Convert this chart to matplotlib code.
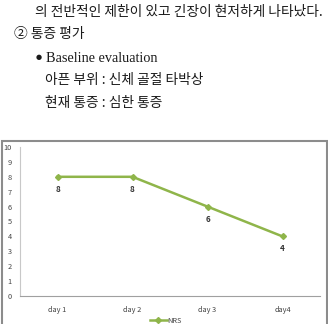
import matplotlib.pyplot as plt
from matplotlib.patches import Rectangle

plt.rcParams['font.family'] = ['Noto Sans CJK KR', 'DejaVu Sans']

# text above the chart
text_lines = [
    "의 전반적인 제한이 있고 긴장이 현저하게 나타났다.",
    "② 통증 평가",
    "Baseline evaluation",
    "아픈 부위 : 신체 골절 타박상",
    "현재 통증 : 심한 통증",
]

# chart data
days = ["day 1", "day 2", "day 3", "day4"]
nrs = [8, 8, 6, 4]
y_ticks = [0, 1, 2, 3, 4, 5, 6, 7, 8, 9, 10]

W, H = 328, 324
fig = plt.figure(figsize=(W / 100, H / 100), dpi=100)
fig.patch.set_facecolor('white')

# text block (pixel positions -> figure coords)
text_pos = [(35, 12), (14, 34), (46, 58), (45, 80), (45, 103)]
for i, ((x, y), s) in enumerate(zip(text_pos, text_lines)):
    fam = ['Liberation Serif'] if i == 2 else ['Noto Sans CJK KR', 'DejaVu Sans']
    fig.text(x / W, 1 - y / H, s, fontsize=10.3 if i == 2 else 9.9,
             color='#1a1a1a', ha='left', va='center', family=fam)
fig.text(36 / W, 1 - 57 / H, "●", fontsize=5, color='#1a1a1a',
         ha='left', va='center', family=['DejaVu Sans'])

# chart frame
fig.patches.append(Rectangle((2 / W, -0.05), 325 / W, 1 - 141 / H + 0.05,
                             transform=fig.transFigure, fill=False,
                             edgecolor='#8c8c8c', linewidth=1.5))

ax = fig.add_axes([20 / W, 1 - 296 / H, 300 / W, 149 / H])
green = '#8fb54a'
x = list(range(len(days)))
ax.plot(x, nrs, color=green, linewidth=1.8, marker='D', markersize=3,
        label='NRS')
for xi, v in zip(x, nrs):
    ax.annotate(str(v), (xi, v), xytext=(0, -9), textcoords='offset points',
                ha='center', va='center', fontsize=5.8, color='#333333',
                fontweight='bold')

ax.set_xlim(-0.5, 3.5)
ax.set_ylim(0, 10)
ax.set_xticks(x)
ax.set_xticklabels(days)
ax.set_yticks(y_ticks)
ax.tick_params(axis='both', length=0, labelsize=5.3, labelcolor='#444444')
ax.tick_params(axis='y', pad=6)
ax.tick_params(axis='x', pad=7)
for side in ['top', 'right']:
    ax.spines[side].set_visible(False)
ax.spines['left'].set_color('#c8c8c8')
ax.spines['bottom'].set_color('#a0a0a0')
ax.spines['left'].set_linewidth(0.8)
ax.spines['bottom'].set_linewidth(0.8)

fig.legend(loc='center', bbox_to_anchor=(166 / W, 1 - 321 / H), frameon=False,
           fontsize=5.3, handlelength=2.2, handletextpad=0.1, labelcolor='#444444')

fig.savefig('out.png', dpi=100)
